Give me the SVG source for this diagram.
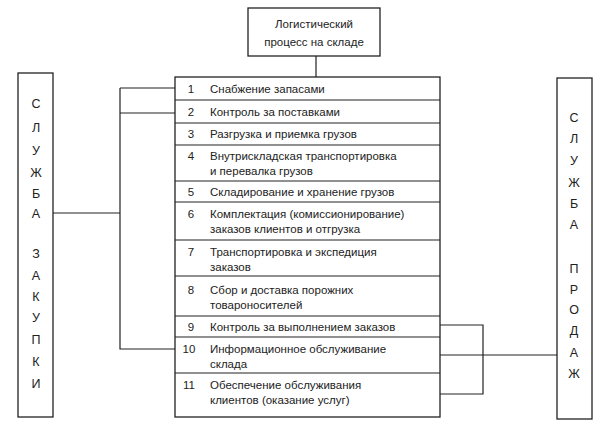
<svg xmlns="http://www.w3.org/2000/svg" width="612" height="448" viewBox="0 0 612 448">
<style>
rect{fill:#fff;stroke:#222;stroke-width:1.3}
.c{fill:none;stroke:#222;stroke-width:1.2}
text{font-family:"Liberation Sans",Arial,sans-serif;font-size:11.5px;fill:#222}
.n{text-anchor:middle}
.v{text-anchor:middle;font-size:12.5px}
</style>
<rect width="612" height="448" style="fill:#fff;stroke:none"/>
<g id="connectors">
<path class="c" d="M316 56V77M120 88H175M120 113H175M120 88V349H175M53 213H120M440 325H483V394H440M440 355H557"/>
</g>
<g id="top"><rect x="248" y="8" width="132" height="48"/>
<text x="314" y="28" class="n">Логистический</text><text x="314" y="46" class="n">процесс на складе</text></g>
<g id="left"><rect x="18" y="73" width="35" height="344"/>
<g class="v"><text x="36" y="108" class="v">С</text><text x="36" y="132" class="v">Л</text><text x="36" y="155" class="v">У</text><text x="36" y="177" class="v">Ж</text><text x="36" y="198" class="v">Б</text><text x="36" y="218" class="v">А</text><text x="36" y="258" class="v">З</text><text x="36" y="280" class="v">А</text><text x="36" y="301" class="v">К</text><text x="36" y="322" class="v">У</text><text x="36" y="344" class="v">П</text><text x="36" y="366" class="v">К</text><text x="36" y="388" class="v">И</text></g></g>
<g id="right"><rect x="557" y="78" width="35" height="341"/>
<text x="574" y="122" class="v">С</text><text x="574" y="143" class="v">Л</text><text x="574" y="165" class="v">У</text><text x="574" y="187" class="v">Ж</text><text x="574" y="208" class="v">Б</text><text x="574" y="229" class="v">А</text><text x="574" y="273" class="v">П</text><text x="574" y="294" class="v">Р</text><text x="574" y="314" class="v">О</text><text x="574" y="335" class="v">Д</text><text x="574" y="357" class="v">А</text><text x="574" y="378" class="v">Ж</text></g>
<g id="main"><rect x="175" y="77" width="265" height="340"/>
<path class="c" d="M175 100H440M175 123H440M175 145H440M175 181H440M175 202H440M175 240H440M175 276H440M175 316H440M175 337H440M175 373H440"/>
<text x="191" y="93" class="n">1</text><text x="210" y="93">Снабжение запасами</text>
<text x="191" y="116" class="n">2</text><text x="210" y="116">Контроль за поставками</text>
<text x="191" y="138" class="n">3</text><text x="210" y="138">Разгрузка и приемка грузов</text>
<text x="191" y="160" class="n">4</text><text x="210" y="160">Внутрискладская транспортировка</text><text x="210" y="175">и перевалка грузов</text>
<text x="191" y="196" class="n">5</text><text x="210" y="196">Складирование и хранение грузов</text>
<text x="191" y="218" class="n">6</text><text x="210" y="218">Комплектация (комиссионирование)</text><text x="210" y="233">заказов клиентов и отгрузка</text>
<text x="191" y="256" class="n">7</text><text x="210" y="256">Транспортировка и экспедиция</text><text x="210" y="271">заказов</text>
<text x="191" y="294" class="n">8</text><text x="210" y="294">Сбор и доставка порожних</text><text x="210" y="309">товароносителей</text>
<text x="191" y="331" class="n">9</text><text x="210" y="331">Контроль за выполнением заказов</text>
<text x="189" y="353" class="n">10</text><text x="210" y="353">Информационное обслуживание</text><text x="210" y="368">склада</text>
<text x="189" y="389" class="n">11</text><text x="210" y="389">Обеспечение обслуживания</text><text x="210" y="404">клиентов (оказание услуг)</text>
</g>
</svg>
